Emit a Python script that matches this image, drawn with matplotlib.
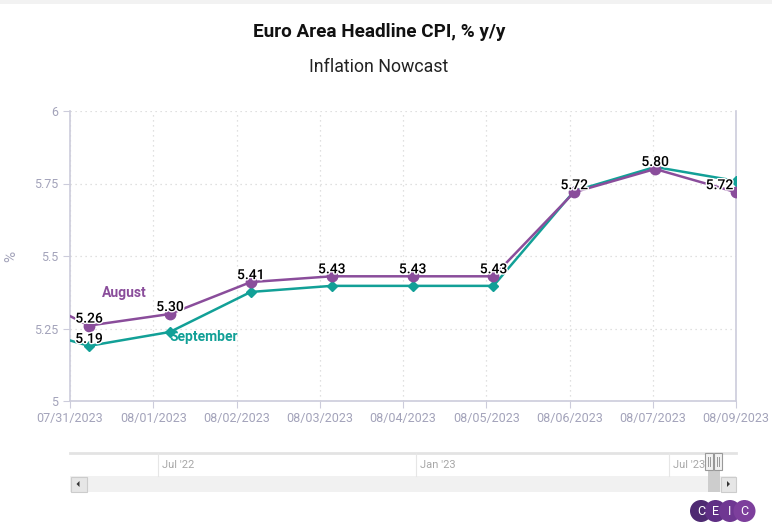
import matplotlib
matplotlib.use("Agg")
import matplotlib.pyplot as plt
import matplotlib.patheffects as pe
from matplotlib.patches import Rectangle, Circle, Polygon
import numpy as np

plt.rcParams["font.family"] = ["Roboto", "DejaVu Sans"]

# data (first point is clipped off the left edge in the reference)
tick_labels = ["07/31/2023", "08/01/2023", "08/02/2023", "08/03/2023", "08/04/2023",
               "08/05/2023", "08/06/2023", "08/07/2023", "08/09/2023"]
august = [5.40, 5.26, 5.30, 5.41, 5.43, 5.43, 5.43, 5.72, 5.80, 5.72]
september = [5.27, 5.19, 5.238, 5.376, 5.397, 5.397, 5.397, 5.724, 5.807, 5.759]
x = np.arange(-1, len(august) - 1)

purple = "#8a4d9b"
teal = "#12a097"
axis_col = "#ccccdb"
lab_col = "#a3a3ba"

W, H = 772, 526
fig = plt.figure(figsize=(W / 100, H / 100), dpi=100)

# pixel overlay axes
bg = fig.add_axes([0, 0, 1, 1], zorder=5)
bg.set_xlim(0, W)
bg.set_ylim(H, 0)
bg.axis("off")
bg.patch.set_alpha(0)
bg.add_patch(Rectangle((0, 0), W, 4, color="#f2f2f2", lw=0))

# main plot
x_left, x_right, y_top, y_bot = 70, 736, 111, 401
ax = fig.add_axes([x_left / W, 1 - y_bot / H, (x_right - x_left) / W, (y_bot - y_top) / H], zorder=1)
xmin = 0 - 19 / 80.875
xmax = 8
ax.set_xlim(xmin, xmax)
ax.set_ylim(5, 6)

ax.plot(x, september, color=teal, lw=1.8, marker="D", ms=5, zorder=3, clip_on=True)
ax.plot(x, august, color=purple, lw=1.8, marker="o", ms=7.5, zorder=4, clip_on=True)

ticks = np.linspace(xmin, xmax, len(tick_labels))
ax.set_xticks(ticks)
ax.set_xticklabels(tick_labels)
ax.set_yticks([5, 5.25, 5.5, 5.75, 6])
ax.set_yticklabels(["5", "5.25", "5.5", "5.75", "6"])
ax.tick_params(axis="both", colors=axis_col, labelcolor=lab_col, labelsize=9, length=5)
ax.tick_params(axis="x", pad=3)
ax.grid(True, linestyle=(0, (1, 3)), color="#d6d6d6", lw=0.9)
ax.spines["top"].set_visible(False)
for s in ["left", "bottom", "right"]:
    ax.spines[s].set_color(axis_col)
    ax.spines[s].set_linewidth(1.2)

outline = [pe.withStroke(linewidth=2, foreground="white")]
for i in range(1, len(august)):
    ha = "center"
    dx = 0
    if i == len(august) - 1:
        ha = "right"
        dx = -2
    ax.annotate(f"{august[i]:.2f}", (x[i], august[i]), xytext=(dx, 0), textcoords="offset points",
                ha=ha, va="bottom", fontsize=10, fontweight="medium", color="black",
                path_effects=outline, zorder=6)
ax.annotate(f"{september[1]:.2f}", (x[1], september[1]), xytext=(0, 0), textcoords="offset points",
            ha="center", va="bottom", fontsize=10, fontweight="medium", color="black",
            path_effects=outline, zorder=6)

# y label
bg.text(11, 256, "%", color=lab_col, fontsize=11, rotation=90, ha="center", va="center")

# series names
bg.text(102, 293, "August", color=purple, fontsize=10, fontweight="bold", ha="left", va="center")
bg.text(170, 337, "September", color=teal, fontsize=10, fontweight="bold", ha="left", va="center")

# titles
bg.text(W / 2 - 7, 32, "Euro Area Headline CPI, % y/y", fontsize=13.6, fontweight="bold",
        ha="center", va="center", color="#111111")
bg.text(W / 2 - 7, 67, "Inflation Nowcast", fontsize=12.8, ha="center", va="center", color="#222222")

# navigator
bg.plot([70, 736], [452.5, 452.5], color="#e3e3e3", lw=2)
for xs, lab in [(158, "Jul '22"), (416, "Jan '23"), (669, "Jul '23")]:
    bg.plot([xs, xs], [453, 476], color="#e6e6e6", lw=0.8)
    bg.text(xs + 4, 465, lab, fontsize=8, color="#a8a8a8", ha="left", va="center", fontstretch="condensed")

# scrollbar
bg.add_patch(Rectangle((70, 476), 666, 16, facecolor="#f1f1f1", lw=0))
bg.add_patch(Rectangle((708, 471), 12, 21, facecolor="#cdcdcd", lw=0))
bg.add_patch(Rectangle((70.5, 476.5), 16, 15, facecolor="#e6e6e6", edgecolor="#cccccc", lw=0.8))
bg.add_patch(Rectangle((720.5, 476.5), 15, 15, facecolor="#e6e6e6", edgecolor="#cccccc", lw=0.8))
bg.add_patch(Polygon([[79.5, 481], [79.5, 487], [76.5, 484]], color="#333333", lw=0))
bg.add_patch(Polygon([[727, 481], [727, 487], [730, 484]], color="#333333", lw=0))
for hx in [704.5, 713.5]:
    bg.add_patch(Rectangle((hx, 453), 8, 17, facecolor="#f2f2f2", edgecolor="#999999", lw=0.8, zorder=5))
    bg.plot([hx + 3, hx + 3], [457, 466], color="#999999", lw=0.7, zorder=6)
    bg.plot([hx + 5, hx + 5], [457, 466], color="#999999", lw=0.7, zorder=6)

# CEIC logo
logo_cols = ["#4e2a72", "#5f2f85", "#6f3792", "#7d3f9c"]
for k, (c, ch) in enumerate(zip(logo_cols, "CEIC")):
    cx = 701 + k * 14.5
    bg.add_patch(Circle((cx, 511), 11, facecolor=c, edgecolor="none", zorder=7 + k))
    bg.text(cx, 511.5, ch, color="white", fontsize=9, ha="center", va="center", zorder=20)

fig.savefig("out.png", dpi=100)
